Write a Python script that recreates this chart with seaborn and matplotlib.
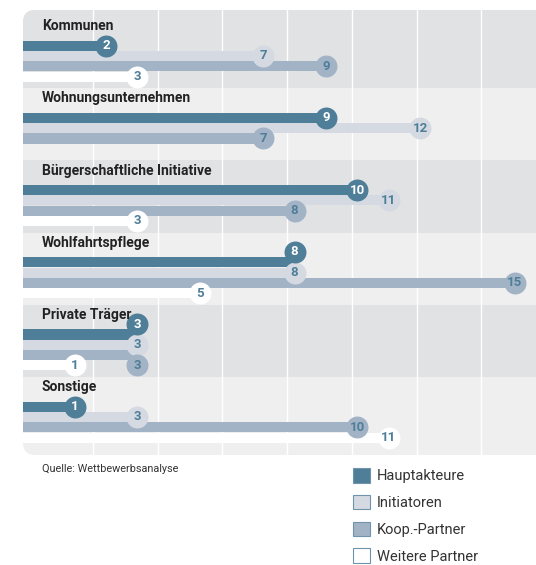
import matplotlib
matplotlib.use("Agg")
import matplotlib.pyplot as plt
from matplotlib.patches import FancyBboxPatch, Patch
import numpy as np
import pandas as pd
import seaborn as sns

categories = ["Kommunen", "Wohnungsunternehmen", "Bürgerschaftliche Initiative",
              "Wohlfahrtspflege", "Private Träger", "Sonstige"]
series = ["Hauptakteure", "Initiatoren", "Koop.-Partner", "Weitere Partner"]
hauptakteure = [2, 9, 10, 8, 3, 1]
initiatoren = [7, 12, 11, 8, 3, 3]
koop_partner = [9, 7, 8, 15, 3, 10]
weitere_partner = [3, np.nan, 3, 5, 1, 11]
source_note = "Quelle: Wettbewerbsanalyse"

colors = {"Hauptakteure": "#4f7e98", "Initiatoren": "#d5dae2",
          "Koop.-Partner": "#a2b3c6", "Weitere Partner": "#ffffff"}
text_colors = {"Hauptakteure": "white", "Initiatoren": "#4f7e98",
               "Koop.-Partner": "#4f7e98", "Weitere Partner": "#4f7e98"}
# circles nudged up/down (in bar steps) where equal values would overlap
nudge = {("Wohlfahrtspflege", "Hauptakteure"): -1,
         ("Private Träger", "Hauptakteure"): -1,
         ("Private Träger", "Koop.-Partner"): 1}

rows = []
for i, cat in enumerate(categories):
    for j, (s, vals) in enumerate(zip(series, [hauptakteure, initiatoren, koop_partner, weitere_partner])):
        rows.append({"category": cat, "series": s, "row": i, "slot": j, "value": vals[i]})
df = pd.DataFrame(rows).dropna(subset=["value"])

step = 0.1427
df["y"] = df["row"] + df["slot"] * step
df["cy"] = df["y"] + [nudge.get((c, s), 0) * step for c, s in zip(df["category"], df["series"])]

sns.set_theme(style="white")
plt.rcParams["font.family"] = ["Roboto", "DejaVu Sans"]

fig = plt.figure(figsize=(5.36, 5.65), dpi=100)
ax = fig.add_axes([23 / 536, 110 / 565, 513 / 536, 445 / 565])
xmin, xmax = -0.643, 15.68
ax.set_xlim(xmin, xmax)
ax.set_ylim(5.669, -0.494)
ax.set_axis_off()
ax.patch.set_visible(False)

# rounded background panel
bg = FancyBboxPatch((0, 0), 1.1, 1, boxstyle="round,pad=0,rounding_size=0.024",
                    mutation_aspect=513 / 445, transform=ax.transAxes,
                    facecolor="#efefef", edgecolor="none", zorder=0)
ax.add_patch(bg)
bounds = [-0.494] + [i - 0.41 for i in range(1, len(categories))] + [5.669]
for i in range(len(categories)):
    if i % 2 == 0:
        band = ax.axhspan(bounds[i], bounds[i + 1], color="#e1e2e4", lw=0, zorder=0.5)
        band.set_clip_path(bg)
for k in range(7):
    f = (70 + 64.7 * k) / 513
    ax.plot([f, f], [0, 1], transform=ax.transAxes, color="white", lw=1, zorder=1)

for s in series:
    d = df[df["series"] == s]
    ax.barh(d["y"], d["value"] - xmin, left=xmin, height=0.139,
            color=colors[s], lw=0, zorder=2)

order = ["Initiatoren", "Weitere Partner", "Koop.-Partner", "Hauptakteure"]
for s in order:
    d = df[df["series"] == s]
    sns.scatterplot(data=d, x="value", y="cy", color=colors[s], s=250,
                    linewidth=0, legend=False, ax=ax, zorder=3)
    for _, r in d.iterrows():
        ax.text(r["value"], r["cy"], f"{int(r['value'])}", ha="center", va="center",
                fontsize=9.5, fontweight="bold", color=text_colors[s], zorder=4)

for i, cat in enumerate(categories):
    ax.text(19 / 513, i - 0.27, cat, transform=ax.get_yaxis_transform(),
            ha="left", va="center", fontsize=10, fontweight="bold", color="#222222", zorder=5)

fig.text(42 / 536, 1 - 469 / 565, source_note, fontsize=7.8, color="#333333", va="center")

handles = [Patch(facecolor=colors[s], edgecolor="#6f93ab", lw=0.8) for s in series]
fig.legend(handles, series, loc="upper left", bbox_to_anchor=(346 / 536, 1 - 461 / 565),
           frameon=False, fontsize=10.5, handlelength=1.15, handleheight=1.15,
           handletextpad=0.45, labelspacing=0.79, borderpad=0, labelcolor="#333333")

fig.savefig("out.png", dpi=100)
